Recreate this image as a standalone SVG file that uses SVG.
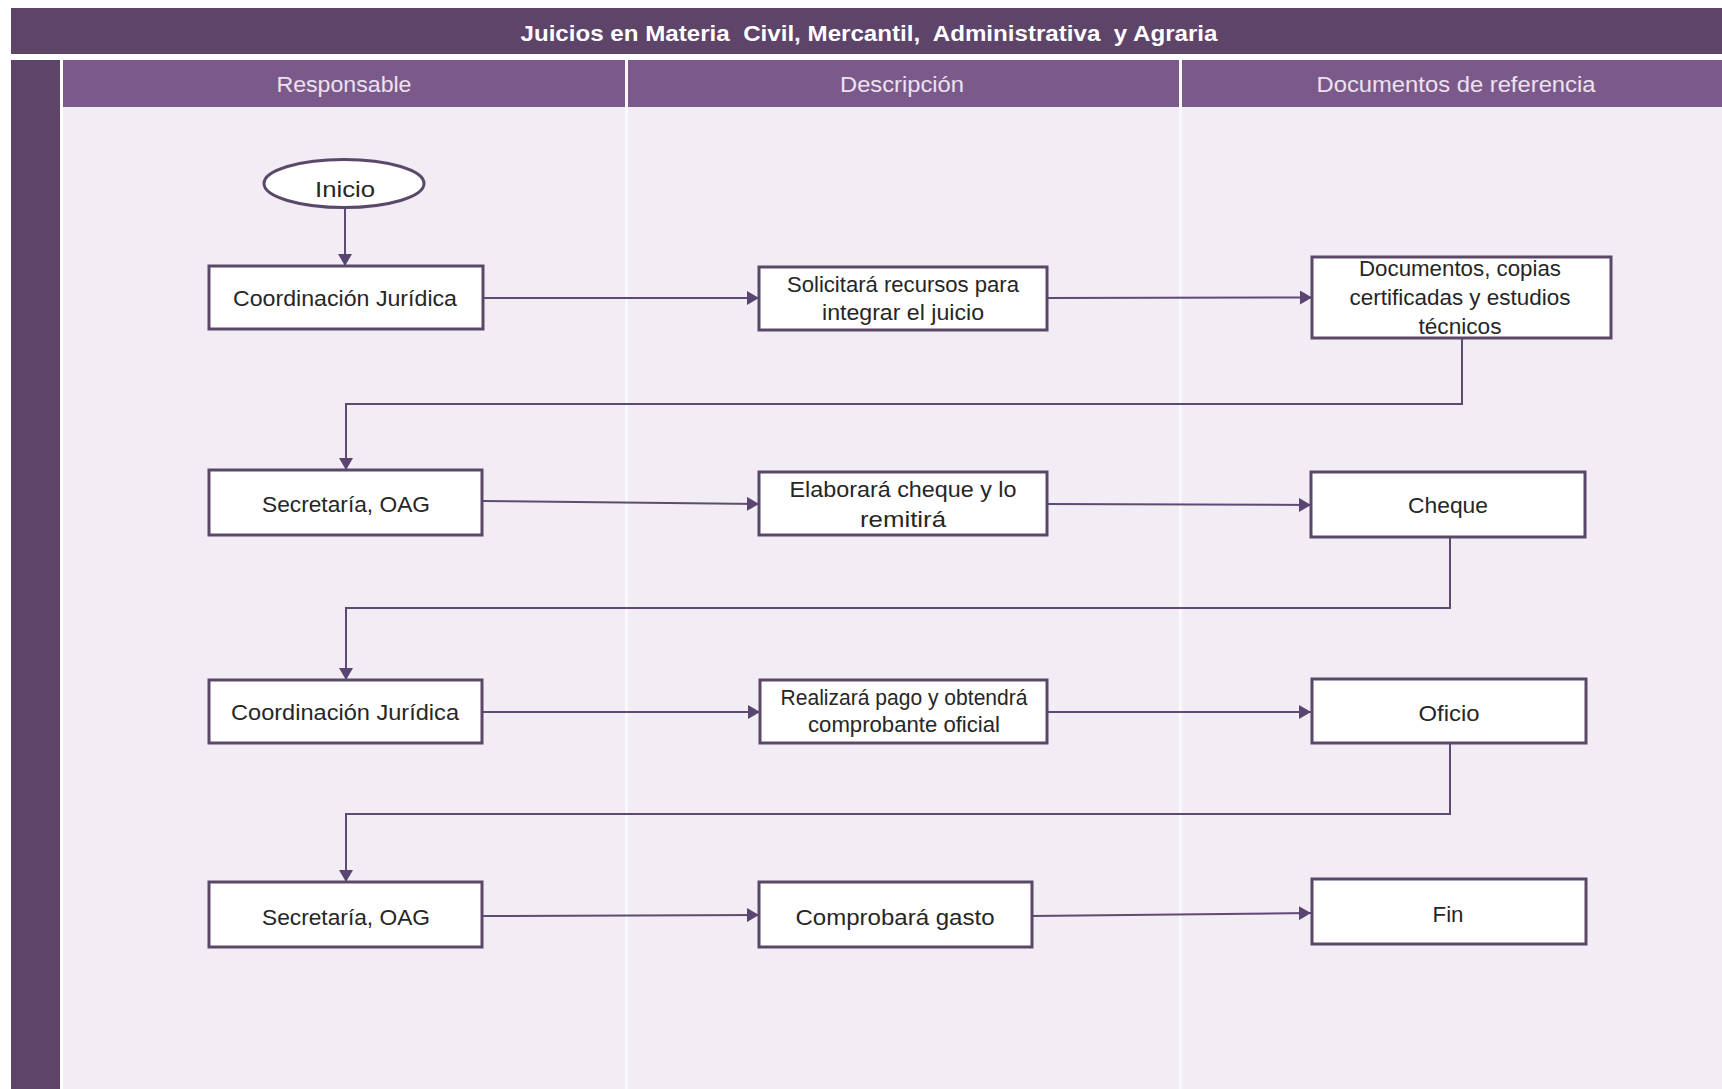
<svg xmlns="http://www.w3.org/2000/svg" width="1722" height="1089" viewBox="0 0 1722 1089">
<style>
.box{fill:#ffffff;stroke:#5a4868;stroke-width:3}
.t{font-family:"Liberation Sans",Arial,sans-serif;font-size:22px;fill:#262626;text-anchor:middle}
.hd{font-family:"Liberation Sans",Arial,sans-serif;font-size:22px;fill:#ece2f0;text-anchor:middle}
.ttl{font-family:"Liberation Sans",Arial,sans-serif;font-size:22px;font-weight:bold;fill:#ffffff;text-anchor:middle;white-space:pre}
.c{fill:none;stroke:#5e4a72;stroke-width:2}
</style>
<defs>
<marker id="ah" markerUnits="userSpaceOnUse" markerWidth="14" markerHeight="14" refX="12" refY="7" orient="auto">
<path d="M0,0 L12,7 L0,14 Z" fill="#5a4570"/>
</marker>
</defs>
<rect x="0" y="0" width="1722" height="1089" fill="#ffffff"/>
<g id="frame">
<rect x="11" y="8" width="1711" height="46" fill="#5d4468"/>
<text class="ttl" x="869" y="41" textLength="697" lengthAdjust="spacingAndGlyphs" xml:space="preserve">Juicios en Materia  Civil, Mercantil,  Administrativa  y Agraria</text>
<rect x="11" y="60" width="49" height="1029" fill="#5d4468"/>
<rect x="63" y="60" width="1659" height="47" fill="#7b5a8b"/>
<rect x="63" y="107" width="1659" height="982" fill="#f2ecf4"/>
<rect x="625" y="60" width="3" height="1029" fill="#fbf8fc"/>
<rect x="1179" y="60" width="3" height="1029" fill="#fbf8fc"/>
<text class="hd" x="344" y="92" textLength="135" lengthAdjust="spacingAndGlyphs">Responsable</text>
<text class="hd" x="902" y="92" textLength="124" lengthAdjust="spacingAndGlyphs">Descripción</text>
<text class="hd" x="1456" y="92" textLength="279" lengthAdjust="spacingAndGlyphs">Documentos de referencia</text>
</g>
<g id="connectors">
<line class="c" x1="345" y1="208" x2="345" y2="266" marker-end="url(#ah)"/>
<line class="c" x1="483" y1="298" x2="759" y2="298" marker-end="url(#ah)"/>
<line class="c" x1="1047" y1="298" x2="1312" y2="297.5" marker-end="url(#ah)"/>
<path class="c" d="M1462,338 V404 H346 V470" marker-end="url(#ah)"/>
<line class="c" x1="482" y1="501" x2="759" y2="504" marker-end="url(#ah)"/>
<line class="c" x1="1047" y1="504" x2="1311" y2="505" marker-end="url(#ah)"/>
<path class="c" d="M1450,537 V608 H346 V680" marker-end="url(#ah)"/>
<line class="c" x1="482" y1="712" x2="760" y2="712" marker-end="url(#ah)"/>
<line class="c" x1="1047" y1="712" x2="1311" y2="712" marker-end="url(#ah)"/>
<path class="c" d="M1450,743 V814 H346 V882" marker-end="url(#ah)"/>
<line class="c" x1="482" y1="916" x2="759" y2="915" marker-end="url(#ah)"/>
<line class="c" x1="1032" y1="916" x2="1311" y2="913" marker-end="url(#ah)"/>
</g>
<g id="n-inicio">
<ellipse class="box" cx="344" cy="183.5" rx="80" ry="24"/>
<text class="t" x="345" y="197" font-size="24" textLength="60" lengthAdjust="spacingAndGlyphs">Inicio</text>
</g>
<g id="n-coord1">
<rect class="box" x="209" y="266" width="274" height="63"/>
<text class="t" x="345" y="306" font-size="24" textLength="224" lengthAdjust="spacingAndGlyphs">Coordinación Jurídica</text>
</g>
<g id="n-solicitara">
<rect class="box" x="759" y="267" width="288" height="63"/>
<text class="t" x="903" y="292" textLength="232" lengthAdjust="spacingAndGlyphs">Solicitará recursos para</text>
<text class="t" x="903" y="320" textLength="162" lengthAdjust="spacingAndGlyphs">integrar el juicio</text>
</g>
<g id="n-documentos">
<rect class="box" x="1312" y="257" width="299" height="81"/>
<text class="t" x="1460" y="276" textLength="202" lengthAdjust="spacingAndGlyphs">Documentos, copias</text>
<text class="t" x="1460" y="305" textLength="221" lengthAdjust="spacingAndGlyphs">certificadas y estudios</text>
<text class="t" x="1460" y="334" textLength="83" lengthAdjust="spacingAndGlyphs">técnicos</text>
</g>
<g id="n-secretaria1">
<rect class="box" x="209" y="470" width="273" height="65"/>
<text class="t" x="346" y="512" font-size="24" textLength="168" lengthAdjust="spacingAndGlyphs">Secretaría, OAG</text>
</g>
<g id="n-elaborara">
<rect class="box" x="759" y="472" width="288" height="63"/>
<text class="t" x="903" y="497" font-size="23" textLength="227" lengthAdjust="spacingAndGlyphs">Elaborará cheque y lo</text>
<text class="t" x="903" y="527" font-size="23" textLength="86" lengthAdjust="spacingAndGlyphs">remitirá</text>
</g>
<g id="n-cheque">
<rect class="box" x="1311" y="472" width="274" height="65"/>
<text class="t" x="1448" y="513" font-size="24" textLength="80" lengthAdjust="spacingAndGlyphs">Cheque</text>
</g>
<g id="n-coord2">
<rect class="box" x="209" y="680" width="273" height="63"/>
<text class="t" x="345" y="720" font-size="24" textLength="228" lengthAdjust="spacingAndGlyphs">Coordinación Jurídica</text>
</g>
<g id="n-realizara">
<rect class="box" x="760" y="680" width="287" height="63"/>
<text class="t" x="904" y="705" font-size="21" textLength="247" lengthAdjust="spacingAndGlyphs">Realizará pago y obtendrá</text>
<text class="t" x="904" y="732" font-size="21" textLength="192" lengthAdjust="spacingAndGlyphs">comprobante oficial</text>
</g>
<g id="n-oficio">
<rect class="box" x="1312" y="679" width="274" height="64"/>
<text class="t" x="1449" y="721" font-size="24" textLength="61" lengthAdjust="spacingAndGlyphs">Oficio</text>
</g>
<g id="n-secretaria2">
<rect class="box" x="209" y="882" width="273" height="65"/>
<text class="t" x="346" y="925" font-size="24" textLength="168" lengthAdjust="spacingAndGlyphs">Secretaría, OAG</text>
</g>
<g id="n-comprobara">
<rect class="box" x="759" y="882" width="273" height="65"/>
<text class="t" x="895" y="925" font-size="24" textLength="199" lengthAdjust="spacingAndGlyphs">Comprobará gasto</text>
</g>
<g id="n-fin">
<rect class="box" x="1312" y="879" width="274" height="65"/>
<text class="t" x="1448" y="922" font-size="24" textLength="31" lengthAdjust="spacingAndGlyphs">Fin</text>
</g>
</svg>
